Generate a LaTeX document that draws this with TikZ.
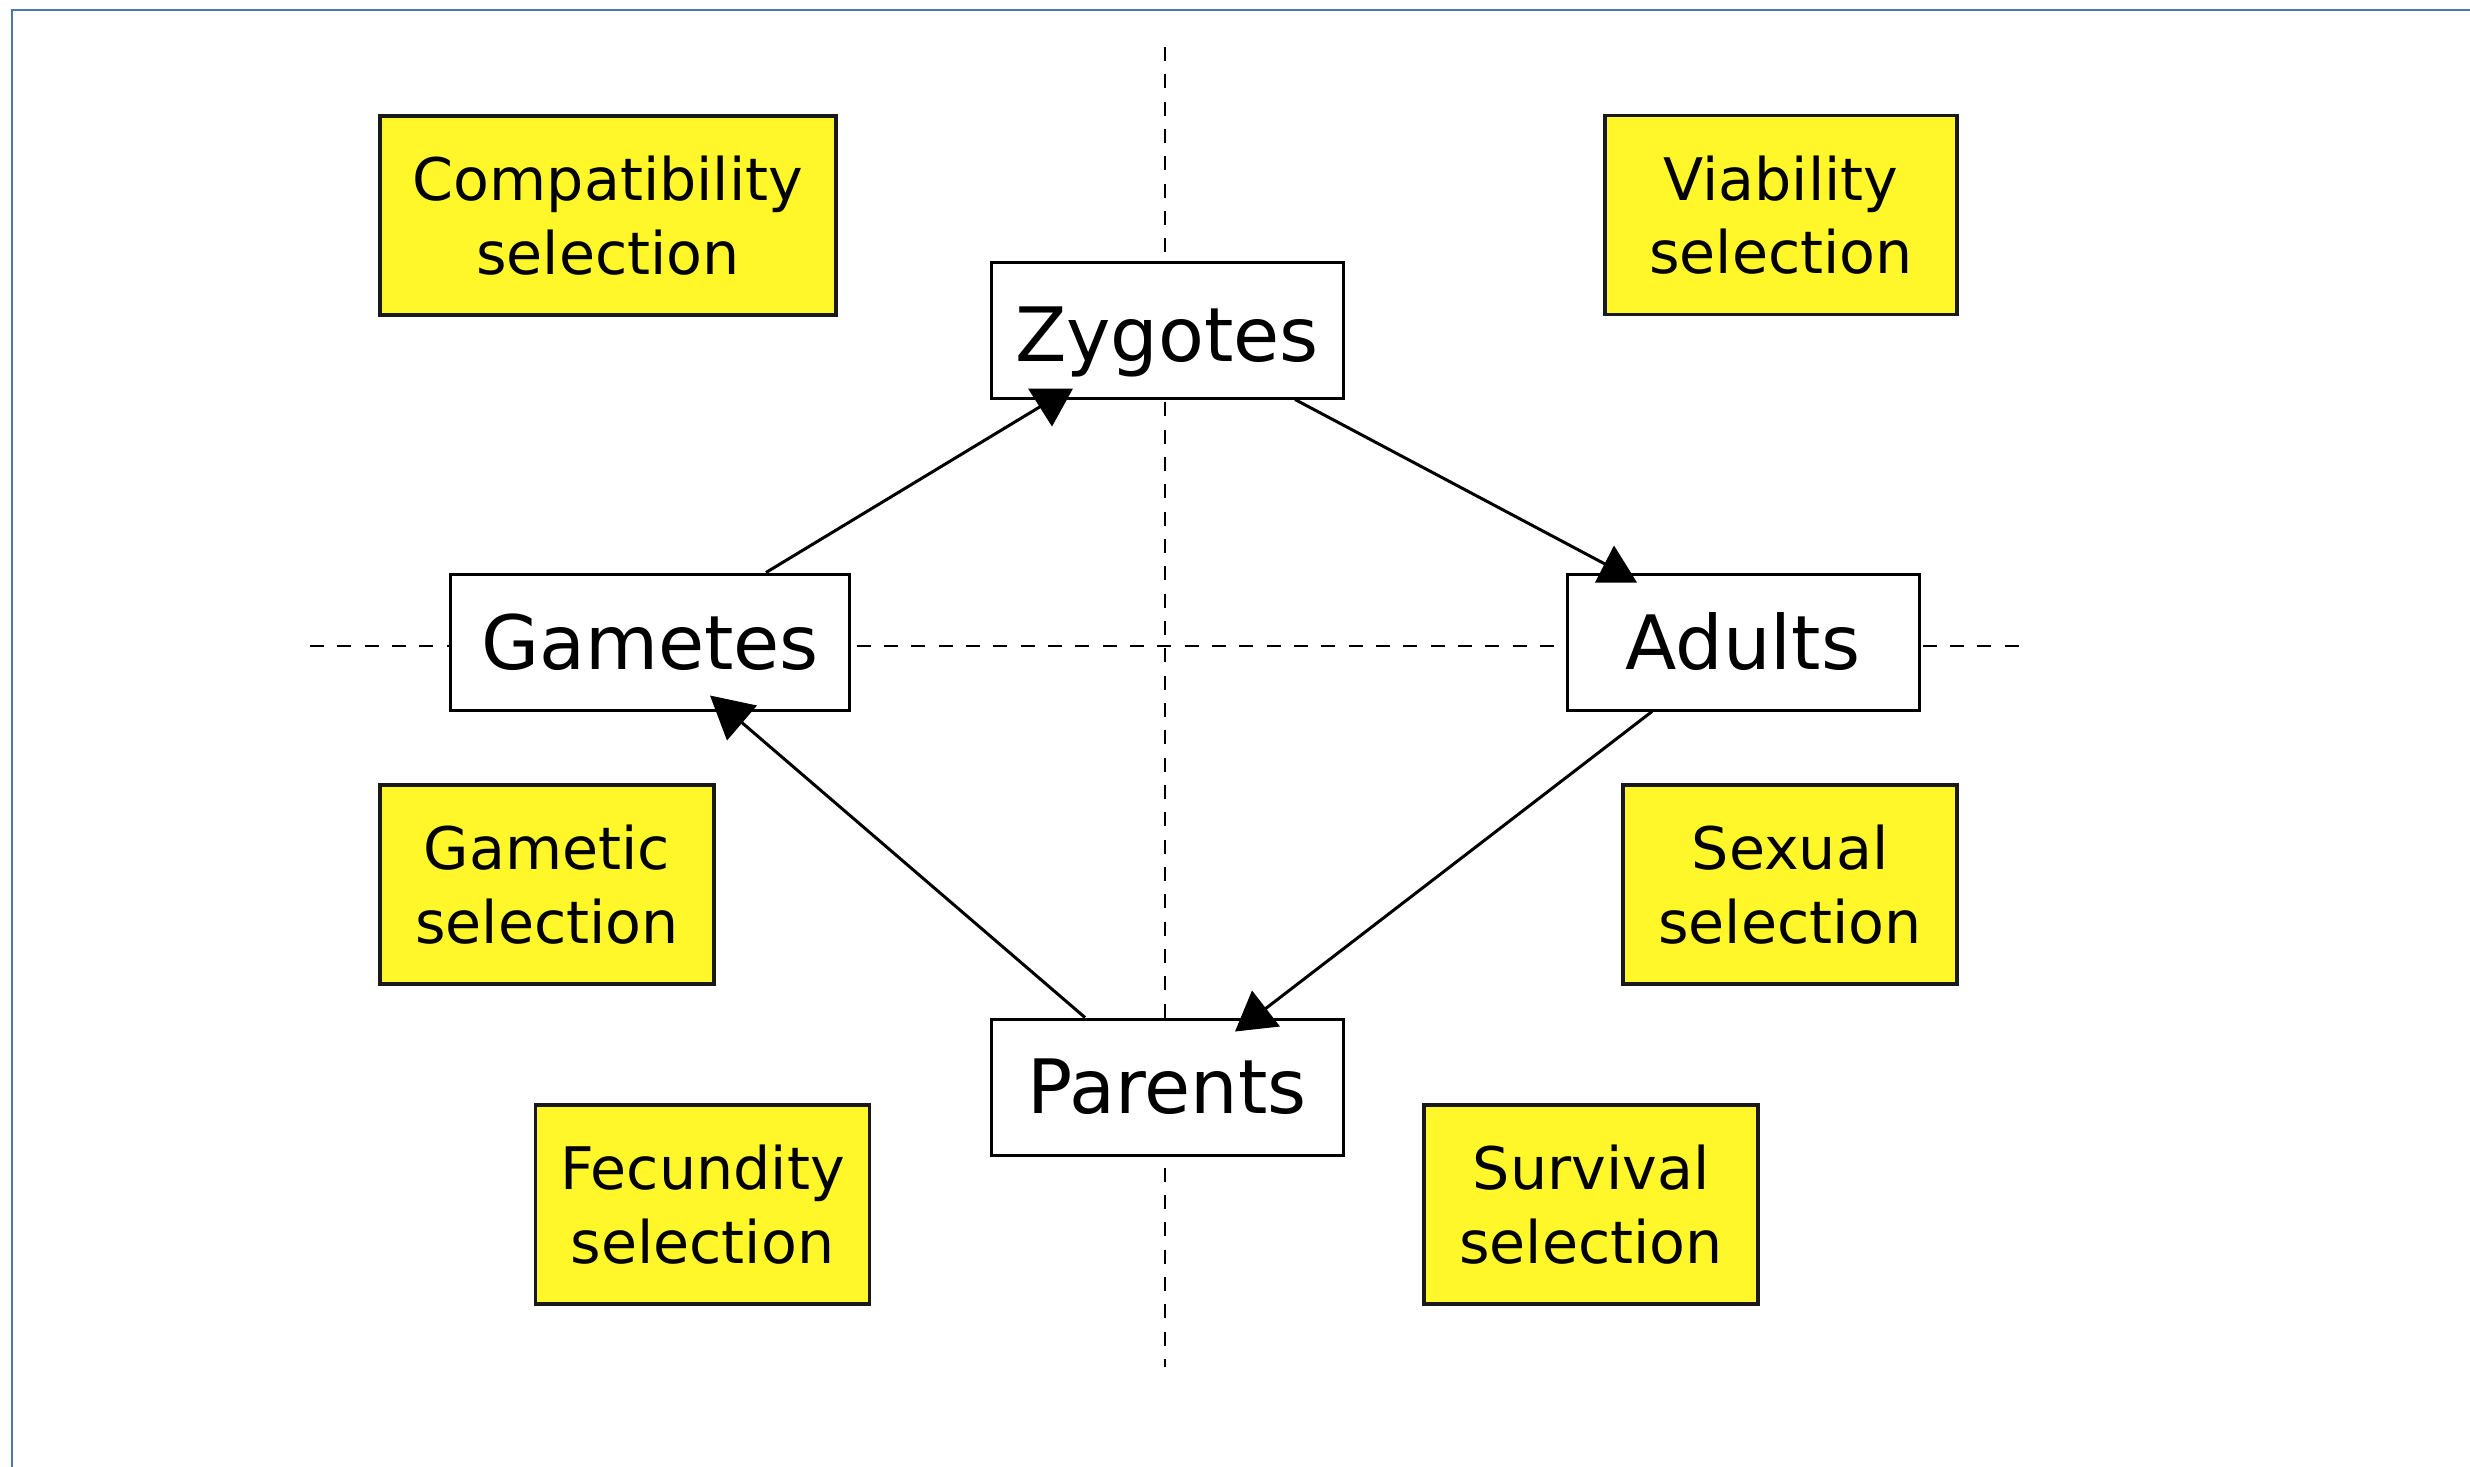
\documentclass[tikz,border=0pt]{standalone}
\usepackage{fontspec}
\setmainfont{DejaVu Sans}
\usetikzlibrary{calc}
\definecolor{notey}{RGB}{255,247,42}
\definecolor{framebl}{RGB}{74,122,170}
\begin{document}
\begin{tikzpicture}[x=0.3pt,y=-0.3pt,
  stage/.style={draw=black,line width=0.9pt,fill=white,inner sep=0pt,
    minimum height=40.8pt,font=\fontsize{22.5}{27}\selectfont},
  note/.style={draw=black!90,line width=1pt,fill=notey,inner sep=0pt,
    minimum height=59.7pt,align=center,font=\fontsize{17.6}{22}\selectfont},
  guide/.style={line width=0.5pt,dash pattern=on 4.2pt off 4pt},
  flow/.style={line width=0.9pt},
  tipfill/.style={fill=black}]
\useasboundingbox (0,0) rectangle (2470,1467);

% page edge
\draw[framebl,line width=0.6pt] (12,1467) -- (12,10) -- (2470,10);

% dashed axes
\coordinate (vt) at (1165,47);
\coordinate (vb) at (1165,1367);
\coordinate (hl) at (310,646);
\coordinate (hr) at (2022,646);
\draw[guide] (vt) -- (vb);
\draw[guide] (hl) -- (hr);

% life-cycle stages
\node[stage,minimum width=105.6pt,text height=24pt,text depth=5.3pt] (zyg) at (1167,330) {Zygotes};
\node[stage,minimum width=119.7pt] (gam) at (650,642) {Gametes};
\node[stage,minimum width=105.6pt] (adu) at (1743,642) {Adults};
\node[stage,minimum width=105.6pt] (par) at (1167,1087) {Parents};

% kinds of selection
\node[note,minimum width=136.8pt] (compat) at (608,215.5) {Compatibility\\selection};
\node[note,minimum width=105.6pt] (viab) at (1781,215) {Viability\\selection};
\node[note,minimum width=100.2pt] (gsel) at (547,884.5) {Gametic\\selection};
\node[note,minimum width=100.2pt] (ssel) at (1790,884.5) {Sexual\\selection};
\node[note,minimum width=100.2pt] (fec) at (702.5,1204.5) {Fecundity\\selection};
\node[note,minimum width=100.2pt] (surv) at (1591,1204.5) {Survival\\selection};

% connector end points on the stage boxes
\coordinate (s1) at ($(gam.north)+(116,0)$);
\coordinate (e1) at ($(zyg.south)+(-115,0)$);
\coordinate (s2) at ($(zyg.south)+(128,0)$);
\coordinate (e2) at ($(adu.north)+(-122,0)$);
\coordinate (s3) at ($(adu.south)+(-91,0)$);
\coordinate (e3) at ($(par.north)+(87,0)$);
\coordinate (s4) at ($(par.north)+(-82,0)$);
\coordinate (e4) at ($(gam.south)+(79,0)$);

\draw[flow] (s1) -- (e1);
\draw[flow] (s2) -- (e2);
\draw[flow] (s3) -- (e3);
\draw[flow] (s4) -- (e4);

% arrow heads
\fill[tipfill,shift={(e1)}] (-24,-11) -- (21,-11) -- (0,27) -- cycle;
\fill[tipfill,shift={(e2)}] (-7,-27) -- (16,10) -- (-26,10) -- cycle;
\fill[tipfill,shift={(e3)}] (-2,-27) -- (26,9) -- (-19,14) -- cycle;
\fill[tipfill,shift={(e4)}] (-19,-16) -- (28,-6) -- (-2,29) -- cycle;
\end{tikzpicture}
\end{document}
